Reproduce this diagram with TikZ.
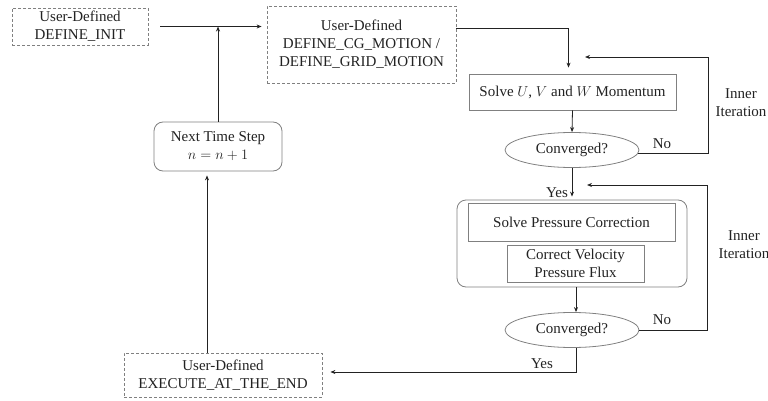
\documentclass[tikz,border=0pt]{standalone}
\usepackage{fontspec}
\setmainfont{Liberation Serif}
\usepackage{tikz}
\usetikzlibrary{arrows.meta,positioning,shapes.geometric}
\definecolor{ink}{RGB}{34,34,34}
\definecolor{frame}{RGB}{128,128,128}

\begin{document}
\begin{tikzpicture}[x=1pt,y=-1pt,
      every node/.style={font=\fontsize{15}{18}\selectfont, text=ink, align=center, inner sep=0pt},
      udf/.style={draw=frame, dash pattern=on 3pt off 2pt, thick},
      blk/.style={draw=frame, thick},
      rblk/.style={draw=frame, thick, rounded corners=9pt},
      cnv/.style={ellipse, draw=frame, thick, minimum width=134pt, minimum height=35pt},
      lbl/.style={font=\fontsize{15}{18}\selectfont},
      arr/.style={-{Stealth[length=5pt,width=4pt]}, thick, color=ink}
    ]
      \useasboundingbox (0,0) rectangle (768,401);
      % user hooks
      \node[udf, minimum width=136pt, minimum height=37pt] (init) at (80,26.5) {User-Defined\\DEFINE\_INIT};
      \node[udf, minimum width=189pt, minimum height=77pt] (motion) at (361.5,44.5) {User-Defined\\DEFINE\_CG\_MOTION /\\DEFINE\_GRID\_MOTION};
      \node[udf, minimum width=198pt, minimum height=44pt] (finish) at (223,375) {User-Defined\\EXECUTE\_AT\_THE\_END};
      \node[rblk, minimum width=128pt, minimum height=49pt] (next) at (218,146.5) {Next Time Step\\$n=n+1$};
      % momentum loop
      \node[blk, minimum width=207pt, minimum height=36pt] (mom) at (572.5,92) {Solve $U$, $V$ and $W$ Momentum};
      \node[cnv] (conv1) at (572,150) {Converged?};
      % pressure loop
      \node[rblk, minimum width=230pt, minimum height=87pt] (group) at (572,243.5) {};
      \node[blk, minimum width=207pt, minimum height=38pt] (pres) at (571.5,222) {Solve Pressure Correction};
      \node[blk, minimum width=137pt, minimum height=37pt] (flux) at (575.5,263.5) {Correct Velocity\\Pressure Flux};
      \node[cnv] (conv2) at (572,330) {Converged?};
      % labels
      \node[lbl] (no1) at (662,144) {No};
      \node[lbl] (yes1) at (557,193) {Yes};
      \node[lbl] (no2) at (662,320) {No};
      \node[lbl] (yes2) at (542,364) {Yes};
      \node[lbl] (iter1) at (741,103) {Inner\\Iteration};
      \node[lbl] (iter2) at (744,245) {Inner\\Iteration};
      \coordinate (loopA) at (708,57);
      \coordinate (inA) at (585,57);
      \coordinate (loopB) at (707,185);
      \coordinate (inB) at (587,185);
      \coordinate (nextin) at ([yshift=-4pt]next.south);
      % connectors
      \draw[arr] ([xshift=12pt]init.east) -- ([xshift=-5pt]init.east -| motion.west);
      \draw[arr] (next.north) -- (next.north |- init.east);
      \draw[arr] ([yshift=16pt]motion.east) -| ([xshift=-4pt,yshift=6pt]mom.north);
      \draw[arr] (mom.south) -- (conv1.north);
      \draw[arr] ([xshift=-1pt,yshift=-3pt]conv1.east) -| (loopA) -- (inA);
      \draw[arr] (conv1.south) -- ([yshift=3pt]conv1.south |- group.north);
      \draw[arr] ([xshift=4pt]group.south) -- ([xshift=4pt]conv2.north);
      \draw[arr] (conv2.east) -| (loopB) -- (inB);
      \draw[arr] ([xshift=4pt]conv2.south) |- ([xshift=8pt,yshift=3pt]finish.east);
      \draw[arr] ([xshift=-16pt]finish.north) -- ([xshift=-16pt]finish.north |- nextin);
    \end{tikzpicture}
\end{document}
